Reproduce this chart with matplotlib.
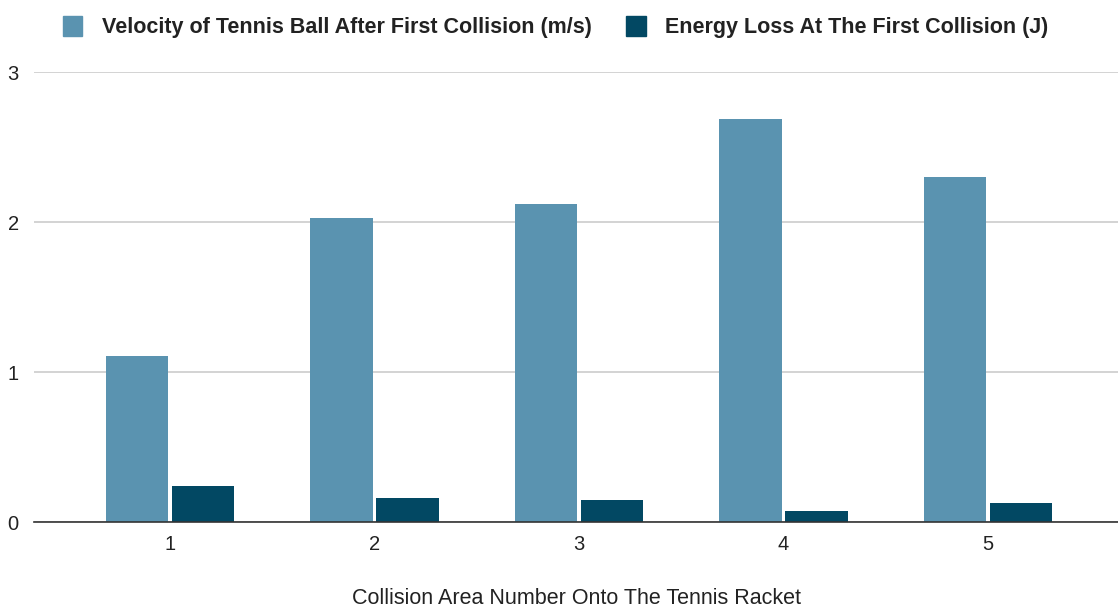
import numpy as np
import matplotlib
matplotlib.use("Agg")
import matplotlib.pyplot as plt
from matplotlib.patches import Patch

plt.rcParams['font.family'] = ['Liberation Sans', 'DejaVu Sans']

areas = ['1', '2', '3', '4', '5']
velocity = [1.11, 2.03, 2.12, 2.69, 2.30]
energy_loss = [0.24, 0.16, 0.15, 0.075, 0.125]

light = '#5a93b0'
dark = '#024863'

fig = plt.figure(figsize=(11.18, 6.14), dpi=100)
ax = fig.add_axes([34 / 1118, 92 / 614, 1084 / 1118, 450 / 614])

x = np.arange(len(areas))
w = 0.305
ax.bar(x - 0.162, velocity, w, color=light, zorder=3)
ax.bar(x + 0.162, energy_loss, w, color=dark, zorder=3)

ax.set_xlim(-0.665, 4.636)
ax.set_ylim(0, 3)
ax.set_yticks([0, 1, 2, 3])
ax.set_xticks(x)
ax.set_xticklabels(areas)
ax.grid(axis='y', color='#cccccc', linewidth=1.2, zorder=0)
for s in ['top', 'right', 'left']:
    ax.spines[s].set_visible(False)
ax.spines['bottom'].set_color('#333333')
ax.spines['bottom'].set_linewidth(1.2)
ax.spines['bottom'].set_zorder(4)
ax.tick_params(axis='both', length=0, labelsize=14.5, colors='#222222')
ax.tick_params(axis='y', pad=11)
ax.tick_params(axis='x', pad=9)
ax.set_xlabel('Collision Area Number Onto The Tennis Racket', fontsize=15.5,
              color='#222222', labelpad=25)

handles = [Patch(color=light), Patch(color=dark)]
fig.legend(handles, ['Velocity of Tennis Ball After First Collision (m/s)',
                     'Energy Loss At The First Collision (J)'],
           loc='upper center', bbox_to_anchor=(0.497, 1.005), ncol=2, frameon=False,
           prop={'weight': 'bold', 'size': 15.5}, handlelength=0.9, handleheight=1.0,
           columnspacing=1.6, handletextpad=0.9, labelcolor='#222222')

fig.savefig('out.png', dpi=100, facecolor='white')
